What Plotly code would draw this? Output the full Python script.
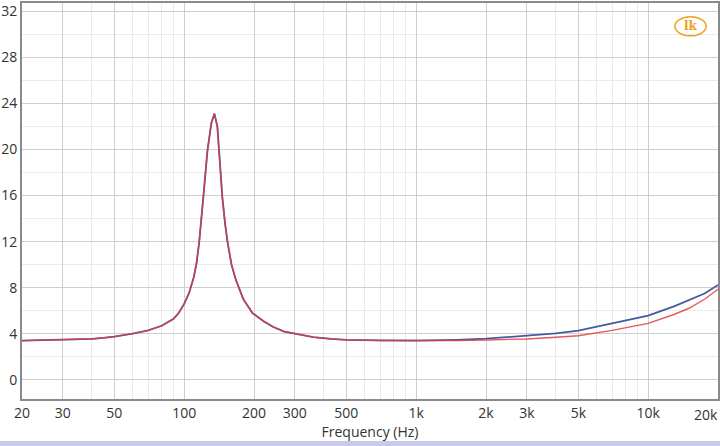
import plotly.graph_objects as go

freq = [20, 25, 30, 35, 40, 45, 50, 60, 70, 80, 90, 95, 100, 105, 110, 113, 116, 121, 126, 131, 135,
        139, 141, 146, 150, 154, 160, 167, 180, 197, 220, 241, 270, 300, 360, 430, 500, 700, 1000,
        1500, 2000, 3000, 4000, 5000, 7000, 10000, 13000, 15000, 17500, 20000]

imp_blue = [3.41, 3.44, 3.47, 3.52, 3.56, 3.66, 3.76, 4.02, 4.30, 4.70, 5.30, 5.85, 6.60, 7.55, 8.90,
            10.1, 11.9, 15.9, 19.9, 22.3, 23.1, 22.0, 20.0, 15.9, 13.6, 11.9, 10.0, 8.7, 7.0, 5.8, 5.1, 4.62,
            4.2, 4.0, 3.72, 3.56, 3.48, 3.43, 3.41,
            3.48, 3.58, 3.84, 4.05, 4.28, 4.90, 5.58, 6.40, 6.94, 7.50, 8.24]

imp_red = [3.41, 3.44, 3.47, 3.52, 3.56, 3.66, 3.76, 4.02, 4.30, 4.70, 5.30, 5.85, 6.60, 7.55, 8.90,
           10.1, 11.9, 15.9, 19.9, 22.3, 23.1, 22.0, 20.0, 15.9, 13.6, 11.9, 10.0, 8.7, 7.0, 5.8, 5.1, 4.62,
           4.2, 4.0, 3.72, 3.56, 3.48, 3.43, 3.41,
           3.43, 3.47, 3.56, 3.70, 3.84, 4.30, 4.91, 5.70, 6.22, 7.00, 7.87]

x_tickvals = [20, 30, 50, 100, 200, 300, 500, 1000, 2000, 3000, 5000, 10000, 20000]
x_ticktext = ['20', '30', '50', '100', '200', '300', '500', '1k', '2k', '3k', '5k', '10k', '20k']
x_minor = [40, 60, 70, 80, 90, 400, 600, 700, 800, 900, 4000, 6000, 7000, 8000, 9000]

fig = go.Figure()
fig.add_trace(go.Scatter(x=freq, y=imp_blue, mode='lines',
                         line=dict(color='rgb(70,90,160)', width=1.8), showlegend=False))
fig.add_trace(go.Scatter(x=freq, y=imp_red, mode='lines',
                         line=dict(color='rgba(225,60,60,0.85)', width=1.4), showlegend=False))

fig.update_layout(
    width=720, height=446,
    margin=dict(l=22, r=2, t=3, b=47),
    paper_bgcolor='white', plot_bgcolor='white',
    font=dict(family='Open Sans', size=14, color='#333333'),
    xaxis=dict(type='log', range=[1.30103, 4.30103], automargin=False,
               tickvals=x_tickvals, ticktext=x_ticktext,
               showgrid=True, gridcolor='#cfcfcf', gridwidth=1.4,
               minor=dict(tickvals=x_minor, showgrid=True, gridcolor='#ebebeb', gridwidth=1),
               showline=True, linecolor='#8a8a8a', linewidth=2, mirror=True,
               ticks='', zeroline=False,
               title=dict(text='Frequency (Hz)', font=dict(size=14, color='#333333'), standoff=0),
               tickfont=dict(size=14, color='#333333')),
    yaxis=dict(range=[-1.65, 32.7], tickmode='linear', tick0=0, dtick=4, automargin=False,
               showgrid=True, gridcolor='#cfcfcf', gridwidth=1.4,
               minor=dict(tick0=0, dtick=2, showgrid=True, gridcolor='#ebebeb', gridwidth=1),
               showline=True, linecolor='#8a8a8a', linewidth=2, mirror=True,
               ticks='', zeroline=False,
               tickfont=dict(size=14, color='#333333')),
)

# last tick label (kept fully visible at the right edge)
fig.add_annotation(x=4.30103, xref='x', y=0, yref='paper', yshift=-4, yanchor='top',
                   xanchor='right', xshift=2,
                   text='20k', showarrow=False, font=dict(size=14, color='#333333'))

# window edge strip at bottom
fig.add_shape(type='rect', xref='paper', yref='paper', x0=-0.05, x1=1.01, y0=-0.106, y1=-0.125,
              fillcolor='#c9c9ee', line=dict(width=0), layer='above')

# logo
fig.add_shape(type='circle', xref='paper', yref='paper', x0=0.938, x1=0.983, y0=0.917, y1=0.965,
              line=dict(color='#f0a020', width=1.5))
fig.add_annotation(xref='paper', yref='paper', x=0.9605, y=0.941, text='<b>lk</b>', showarrow=False,
                   xanchor='center', yanchor='middle',
                   font=dict(size=12, color='#f0a020', family='DejaVu Serif'))

fig.write_html('out.html', config={'displayModeBar': False},
               post_script="document.body.style.margin='0px';document.body.style.overflow='hidden';")
